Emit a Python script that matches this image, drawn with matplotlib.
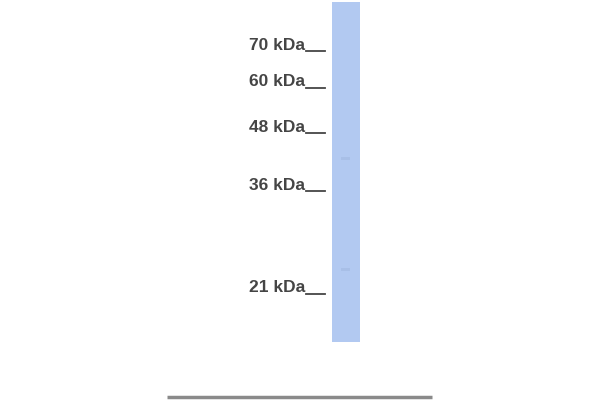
import matplotlib.pyplot as plt
from matplotlib.patches import Rectangle

# marker ladder (label, row in pixels)
marker_kda = [70, 60, 48, 36, 21]
marker_row = [45, 82, 127, 185, 288]
# faint spots seen in the lane (row in pixels)
band_row = [158, 269]

fig = plt.figure(figsize=(6, 4), dpi=100)
ax = fig.add_axes([0, 0, 1, 1])
ax.set_xlim(0, 600)
ax.set_ylim(400, 0)
ax.axis('off')

# the lane
ax.add_patch(Rectangle((332, 2), 28, 340, facecolor='#b2c9f1', edgecolor='none'))
for r in band_row:
    ax.add_patch(Rectangle((341, r - 1.5), 9, 3, facecolor='#9db3dc', edgecolor='none', alpha=0.45))

for kda, r in zip(marker_kda, marker_row):
    ax.text(305, r, f'{kda} kDa', ha='right', va='center', fontsize=12.5,
            fontweight='bold', color='#454545', family='Liberation Sans')
    ax.plot([306, 325], [r + 6, r + 6], color='#454545', lw=1.3)

# strip at the bottom
ax.plot([167, 432], [397, 397], color='#8a8a8a', lw=2.5, solid_capstyle='butt')

fig.savefig('out.png', dpi=100)
